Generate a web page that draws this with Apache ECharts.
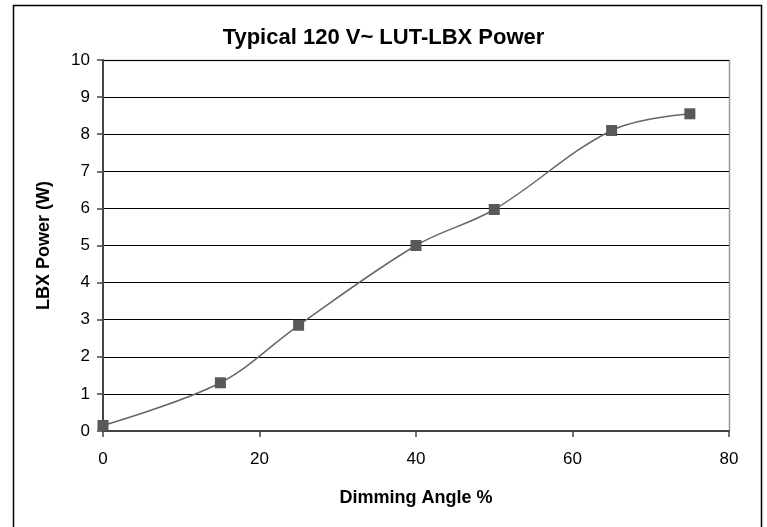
<!DOCTYPE html>
<html>
<head>
<meta charset="utf-8">
<script src="https://cdn.jsdelivr.net/npm/echarts@6/dist/echarts.min.js"></script>
<style>
  html, body { margin: 0; padding: 0; background: #fff; }
  #chart { width: 767px; height: 527px; }
</style>
</head>
<body>
<div id="chart"></div>
<script>
const angles = [0, 15, 25, 40, 50, 65, 75]
const power = [0.15, 1.3, 2.85, 5.0, 5.97, 8.1, 8.55]

const points = angles.map((a, i) => [a, power[i]])

const chart = echarts.init(document.getElementById('chart'))
chart.setOption({
  animation: false,
  backgroundColor: '#fff',
  title: {
    text: 'Typical 120 V~ LUT-LBX Power',
    left: 'center',
    top: 22,
    textStyle: {
      fontFamily: 'Liberation Sans',
      fontWeight: 'bold',
      fontSize: 22,
      color: '#000'
    }
  },
  graphic: [
    {
      type: 'rect',
      shape: { x: 13.5, y: 5.5, width: 748, height: 540 },
      style: { fill: 'none', stroke: '#000', lineWidth: 1.5 },
      silent: true
    },
    {
      // gray frame on top and right of plot area
      type: 'polyline',
      shape: { points: [[103, 60.5], [729.5, 60.5], [729.5, 431]] },
      style: { stroke: '#999', lineWidth: 1.5, fill: 'none' },
      silent: true
    }
  ],
  grid: {
    left: 103,
    right: 767 - 729,
    top: 60,
    bottom: 527 - 431
  },
  xAxis: {
    type: 'value',
    min: 0,
    max: 80,
    interval: 20,
    name: 'Dimming Angle %',
    nameLocation: 'middle',
    nameGap: 58,
    nameTextStyle: {
      fontFamily: 'Liberation Sans',
      fontWeight: 'bold',
      fontSize: 18,
      color: '#000'
    },
    axisLine: { onZero: false, lineStyle: { color: '#444', width: 2 } },
    axisTick: { show: true, inside: false, length: 6, lineStyle: { color: '#444', width: 1.5 } },
    axisLabel: {
      margin: 20,
      fontFamily: 'Liberation Sans',
      fontSize: 17,
      color: '#000'
    },
    splitLine: { show: false }
  },
  yAxis: {
    type: 'value',
    min: 0,
    max: 10,
    interval: 1,
    name: 'LBX Power (W)',
    nameLocation: 'middle',
    nameGap: 50,
    nameTextStyle: {
      fontFamily: 'Liberation Sans',
      fontWeight: 'bold',
      fontSize: 18,
      color: '#000'
    },
    axisLine: { show: true, lineStyle: { color: '#444', width: 2 } },
    axisTick: { show: true, inside: false, length: 6, lineStyle: { color: '#444', width: 1.5 } },
    axisLabel: {
      margin: 13,
      fontFamily: 'Liberation Sans',
      fontSize: 17,
      color: '#000'
    },
    splitLine: { show: true, lineStyle: { color: '#000', width: 1 } }
  },
  series: [
    {
      type: 'line',
      data: points,
      smooth: 0.35,
      symbol: 'rect',
      symbolSize: 11,
      itemStyle: { color: '#595959' },
      lineStyle: { color: '#666', width: 1.5 },
      clip: false
    }
  ]
})
</script>
</body>
</html>
